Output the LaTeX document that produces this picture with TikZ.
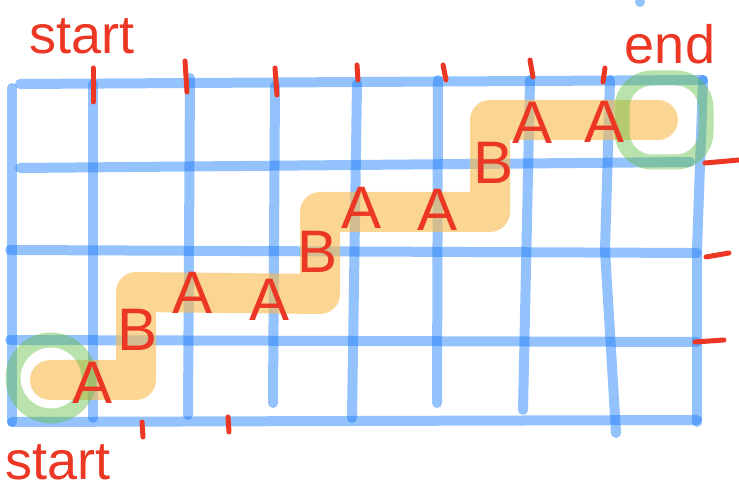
\documentclass[tikz,border=0pt]{standalone}
\usepackage{fontspec}
\setmainfont{Liberation Sans}
\usepackage{xcolor}
\usepackage{tikz}
\usetikzlibrary{positioning}

\definecolor{gridblue}{RGB}{22,122,249}
\definecolor{trailorange}{RGB}{247,187,80}
\definecolor{ringgreen}{RGB}{100,190,70}
\definecolor{inkred}{RGB}{235,55,35}

\begin{document}
\begin{tikzpicture}[
  x=0.5pt,y=-0.5pt,
  gridline/.style={gridblue,opacity=0.46,line width=5pt,line cap=round},
  trail/.style={trailorange,opacity=0.62,line width=20pt,line cap=round,line join=round},
  ring/.style={draw=ringgreen,draw opacity=0.45,line width=7.5pt,minimum size=38pt,inner sep=0pt},
  tickmark/.style={inkred,line width=2.5pt,line cap=round},
  cell/.style={inkred,font=\fontsize{30}{30}\selectfont,inner sep=0pt},
  note/.style={inkred,font=\fontsize{27}{27}\selectfont,inner sep=0pt}
]
\useasboundingbox (0,0) rectangle (739,490);

% grid
\draw[gridline] (12,88) -- (12,422);
\draw[gridline] (93,84) -- (93,418);
\draw[gridline] (190,78) -- (188,415);
\draw[gridline] (275,86) -- (273,403);
\draw[gridline] (357,84) -- (352,418);
\draw[gridline] (438,80) -- (437,403);
\draw[gridline] (530,80) -- (523,410);
\draw[gridline] (610,80) -- (605,250) -- (616,433);
\draw[gridline] (703,80) -- (697,250) -- (697,422);
\draw[gridline] (20,84) -- (703,80);
\draw[gridline] (20,168) -- (690,162);
\draw[gridline] (10,250) -- (697,253);
\draw[gridline] (10,340) -- (697,342);
\draw[gridline] (12,422) -- (697,420);
\fill[gridblue,opacity=0.46] (640,2) circle (2.5pt);

% path through the grid
\coordinate (t0) at (50,380);
\coordinate (t1) at (136,380);
\coordinate (t2) at (136,292);
\coordinate (t3) at (320,294);
\coordinate (t4) at (320,212);
\coordinate (t5) at (490,212);
\coordinate (t6) at (490,120);
\coordinate (t7) at (658,120);
\draw[trail] (t0) -- (t1) -- (t2) -- (t3) -- (t4) -- (t5) -- (t6) -- (t7);

% start and end rings
\node[ring,circle] (startring) at (51,378) {};
\node[ring,rectangle,rounded corners=15pt,minimum size=42pt] (endring) at (664,120) {};

% letters
\node[cell] (a1) at (93,383) {A};
\node[cell] (b1) at (138,330) {B};
\node[cell] (a2) at (193,293) {A};
\node[cell] (a3) at (270,300) {A};
\node[cell] (b2) at (318,252) {B};
\node[cell] (a4) at (362,208) {A};
\node[cell] (a5) at (438,210) {A};
\node[cell] (b3) at (494,163) {B};
\node[cell] (a6) at (533,123) {A};
\node[cell] (a7) at (605,122) {A};

% ticks
\draw[tickmark] (93,68) -- (93,102);
\draw[tickmark] (185,61) -- (187,92);
\draw[tickmark] (275,68) -- (277,95);
\draw[tickmark] (357,65) -- (358,80);
\draw[tickmark] (443,65) -- (446,80);
\draw[tickmark] (530,60) -- (533,77);
\draw[tickmark] (605,68) -- (603,82);
\draw[tickmark] (142,422) -- (143,437);
\draw[tickmark] (228,417) -- (229,432);
\draw[tickmark] (705,163) -- (739,160);
\draw[tickmark] (706,257) -- (729,253);
\draw[tickmark] (695,342) -- (724,340);

% labels
\node[note] (topstart) at (82,36) {start};
\node[note] (endlabel) at (670,44) {end};
\node[note] (botstart) at (58,462) {start};
\end{tikzpicture}
\end{document}
